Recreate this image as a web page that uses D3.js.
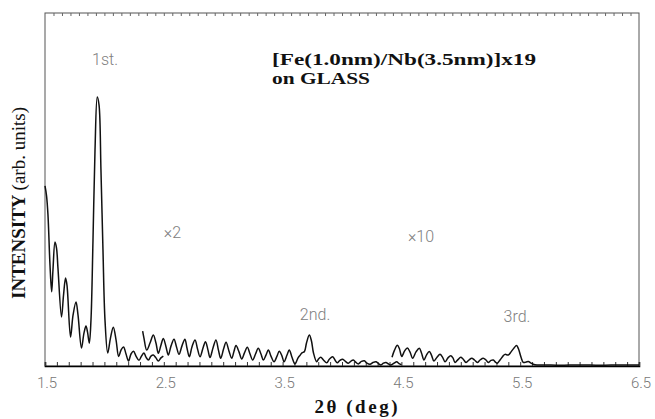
<!DOCTYPE html>
<html>
<head>
<meta charset="utf-8">
<script src="https://cdn.jsdelivr.net/npm/d3@7"></script>
<style>
  body { margin: 0; background: #fff; }
  svg { display: block; }
</style>
</head>
<body>
<svg id="chart" width="655" height="419"></svg>
<script>
// Low-angle X-ray reflectivity of a [Fe(1.0nm)/Nb(3.5nm)]x19 multilayer.
// Three segments: as measured, scaled x2 and scaled x10 (values as plotted).

const angleX1 = [1.500, 1.513, 1.525, 1.542, 1.556, 1.567, 1.584, 1.597, 1.609, 1.639,
  1.656, 1.673, 1.685, 1.715, 1.736, 1.761, 1.778, 1.807, 1.828, 1.845,
  1.858, 1.873, 1.887, 1.904, 1.921, 1.940, 1.955, 1.971, 1.988, 2.005,
  2.028, 2.051, 2.075, 2.098, 2.120, 2.140, 2.161, 2.182, 2.203, 2.224,
  2.245, 2.266, 2.291, 2.312, 2.333, 2.350, 2.371, 2.392, 2.412, 2.434,
  2.454, 2.476, 2.496];
const intensityX1 = [51.0, 48.2, 42.8, 28.6, 21.0, 27.2, 35.1, 33.4, 27.8, 13.9,
  20.1, 24.9, 22.9, 8.2, 14.4, 18.1, 14.4, 5.1, 9.3, 11.3,
  9.6, 6.5, 13.0, 35.7, 61.2, 76.2, 73.9, 55.5, 32.9, 13.0,
  3.7, 7.9, 11.0, 7.4, 2.7, 4.5, 5.4, 3.4, 1.4, 3.4,
  4.2, 2.8, 1.6, 2.8, 3.7, 2.5, 1.7, 2.8, 3.1, 2.3,
  1.4, 2.3, 2.8];

const angleX2 = [2.322, 2.333, 2.356, 2.384, 2.412, 2.434, 2.454, 2.476, 2.496, 2.519,
  2.538, 2.561, 2.586, 2.607, 2.628, 2.653, 2.678, 2.695, 2.715, 2.737,
  2.763, 2.784, 2.805, 2.830, 2.851, 2.872, 2.889, 2.914, 2.939, 2.960,
  2.979, 3.003, 3.024, 3.049, 3.072, 3.091, 3.108, 3.133, 3.156, 3.179,
  3.203, 3.226, 3.248, 3.272, 3.295, 3.318, 3.338, 3.360, 3.380, 3.402,
  3.428, 3.453, 3.472, 3.495, 3.512, 3.537, 3.556, 3.579, 3.604, 3.630,
  3.646, 3.663, 3.684, 3.701, 3.725, 3.743, 3.760, 3.787, 3.802, 3.821,
  3.844, 3.871, 3.895, 3.922, 3.941, 3.960, 3.983, 4.006, 4.029, 4.053,
  4.076, 4.095, 4.118, 4.137, 4.164, 4.188, 4.210, 4.236, 4.261, 4.286,
  4.307, 4.328, 4.349, 4.370, 4.391, 4.410, 4.438, 4.460, 4.480, 4.501];
const intensityX2 = [9.9, 7.9, 4.5, 6.5, 8.8, 6.5, 3.6, 5.9, 7.8, 5.4,
  3.1, 5.7, 7.6, 5.4, 3.3, 5.7, 7.6, 5.1, 2.6, 5.4,
  7.4, 4.8, 2.6, 5.1, 6.9, 4.5, 2.4, 5.1, 7.4, 4.5,
  2.2, 4.8, 6.7, 4.2, 2.2, 4.2, 5.8, 4.0, 2.0, 3.7,
  5.3, 3.4, 1.7, 3.4, 5.0, 3.4, 1.7, 3.1, 4.5, 2.8,
  1.2, 2.8, 4.2, 2.8, 1.2, 3.1, 4.5, 2.5, 0.6, 2.3,
  3.0, 3.7, 4.1, 6.5, 8.8, 7.1, 3.7, 1.2, 2.0, 2.5,
  1.7, 0.9, 2.0, 2.6, 1.7, 0.9, 1.6, 1.9, 1.3, 0.8,
  1.4, 1.7, 1.0, 0.6, 1.3, 1.5, 0.8, 0.5, 1.0, 1.2,
  0.7, 0.3, 0.8, 1.0, 0.6, 0.3, 0.8, 1.2, 0.7, 0.4];

const angleX10 = [4.421, 4.442, 4.466, 4.484, 4.503, 4.526, 4.550, 4.572, 4.595, 4.623,
  4.651, 4.669, 4.690, 4.711, 4.735, 4.753, 4.774, 4.800, 4.825, 4.846,
  4.867, 4.892, 4.915, 4.934, 4.951, 4.976, 4.999, 5.019, 5.044, 5.069,
  5.092, 5.115, 5.139, 5.162, 5.189, 5.212, 5.231, 5.254, 5.274, 5.292,
  5.307, 5.330, 5.355, 5.372, 5.400, 5.423, 5.448, 5.469, 5.486, 5.507,
  5.526, 5.549, 5.568, 5.591, 5.610, 5.641, 5.709, 5.835, 6.003, 6.172,
  6.340, 6.500];
const intensityX10 = [2.5, 4.5, 5.9, 4.8, 2.7, 4.2, 5.1, 4.0, 2.2, 4.0,
  5.0, 3.7, 1.7, 3.1, 4.1, 3.1, 1.4, 2.5, 3.3, 2.5,
  1.2, 2.3, 2.9, 2.3, 1.0, 1.8, 2.5, 2.0, 1.0, 1.7,
  2.2, 1.7, 1.0, 1.7, 2.2, 1.7, 1.0, 1.6, 1.7, 1.1,
  0.8, 1.7, 2.8, 3.3, 3.1, 4.0, 5.1, 5.8, 4.8, 2.5,
  1.0, 1.1, 1.3, 0.8, 0.5, 0.3, 0.3, 0.2, 0.3, 0.2,
  0.3, 0.3];

const xTickValues = [1.5, 2.5, 3.5, 4.5, 5.5, 6.5];
const xTickLabels = ["1.5", "2.5", "3.5", "4.5", "5.5", "6.5"];

const W = 655, H = 419;
const margin = { top: 13, right: 16, bottom: 53, left: 45 };
const innerW = W - margin.left - margin.right;
const innerH = H - margin.top - margin.bottom;

const svg = d3.select("#chart");
const g = svg.append("g").attr("transform", `translate(${margin.left},${margin.top})`);

const x = d3.scaleLinear().domain([1.5, 6.5]).range([0, innerW]);
const y = d3.scaleLinear().domain([0, 100]).range([innerH, 0]);

// frame
g.append("rect")
  .attr("x", 0).attr("y", 0).attr("width", innerW).attr("height", innerH)
  .attr("fill", "none").attr("stroke", "#555").attr("stroke-width", 1);

// bottom axis: inward minor ticks every 0.1 deg
const minorTicks = d3.range(15, 66).map(d => d / 10);
const bottomAxis = d3.axisBottom(x)
  .tickValues(minorTicks)
  .tickSize(-4)
  .tickFormat("");
const bx = g.append("g").attr("transform", `translate(0,${innerH})`).call(bottomAxis);
bx.select(".domain").attr("stroke", "#000").attr("stroke-width", 1.6);
bx.selectAll(".tick line").attr("stroke", "#333").attr("stroke-width", 1);

// tick labels
g.append("g").selectAll("text")
  .data(xTickValues)
  .join("text")
  .attr("x", d => x(d) + 2)
  .attr("y", innerH + 22)
  .attr("text-anchor", "middle")
  .attr("font-family", "Roboto, 'Liberation Sans', sans-serif")
  .attr("font-weight", 300)
  .attr("font-size", 15)
  .attr("fill", "#777")
  .text((d, i) => xTickLabels[i]);

// top edge: fine inward ticks
const topScale = d3.scaleLinear().domain([0, 70]).range([0, innerW]);
const topAxis = d3.axisTop(topScale)
  .tickValues(d3.range(1, 70))
  .tickSize(-3)
  .tickFormat("");
const tx = g.append("g").call(topAxis);
tx.select(".domain").remove();
tx.selectAll(".tick line").attr("stroke", "#666");

// curves
const line = d3.line()
  .x(d => x(d[0]))
  .y(d => y(d[1]))
  .curve(d3.curveCatmullRom.alpha(0.5));

const series = [
  d3.zip(angleX1, intensityX1),
  d3.zip(angleX2, intensityX2),
  d3.zip(angleX10, intensityX10)
];

g.append("g").selectAll("path")
  .data(series)
  .join("path")
  .attr("d", line)
  .attr("fill", "none")
  .attr("stroke", "#111")
  .attr("stroke-width", 1.5)
  .attr("stroke-linejoin", "round");

// peak labels and scale factors
const noteFont = "Roboto, 'Liberation Sans', sans-serif";
const notes = [
  { text: "1st.", a: 2.005, v: 85.3 },
  { text: "×2", a: 2.573, v: 36.3 },
  { text: "×10", a: 4.665, v: 35.1 },
  { text: "2nd.", a: 3.773, v: 13.0 },
  { text: "3rd.", a: 5.473, v: 12.5 }
];
g.append("g").selectAll("text")
  .data(notes)
  .join("text")
  .attr("x", d => x(d.a))
  .attr("y", d => y(d.v))
  .attr("text-anchor", "middle")
  .attr("font-family", noteFont)
  .attr("font-weight", 300)
  .attr("font-size", 16)
  .attr("fill", "#808080")
  .text(d => d.text);

// sample description
const title = g.append("g")
  .attr("font-family", "'Liberation Serif', 'Times New Roman', serif")
  .attr("font-weight", "bold")
  .attr("font-size", 16)
  .attr("fill", "#111");
title.append("text")
  .attr("x", x(3.411)).attr("y", y(85.3))
  .attr("textLength", 264).attr("lengthAdjust", "spacingAndGlyphs")
  .text("[Fe(1.0nm)/Nb(3.5nm)]x19");
title.append("text")
  .attr("x", x(3.411)).attr("y", y(79.9))
  .attr("textLength", 98).attr("lengthAdjust", "spacingAndGlyphs")
  .text("on GLASS");

// axis titles
svg.append("text")
  .attr("transform", `translate(25,${margin.top + 190}) rotate(-90)`)
  .attr("text-anchor", "middle")
  .attr("font-family", "'Liberation Serif', 'Times New Roman', serif")
  .attr("font-size", 19)
  .attr("fill", "#111")
  .call(t => {
    t.append("tspan").attr("font-weight", "bold").text("INTENSITY ");
    t.append("tspan").text("(arb. units)");
  });

svg.append("text")
  .attr("x", 356).attr("y", 413)
  .attr("text-anchor", "middle")
  .attr("font-family", "'Liberation Serif', 'Times New Roman', serif")
  .attr("font-weight", "bold")
  .attr("font-size", 19)
  .attr("fill", "#111")
  .attr("textLength", 83).attr("lengthAdjust", "spacing")
  .text("2θ (deg)");
</script>
</body>
</html>
